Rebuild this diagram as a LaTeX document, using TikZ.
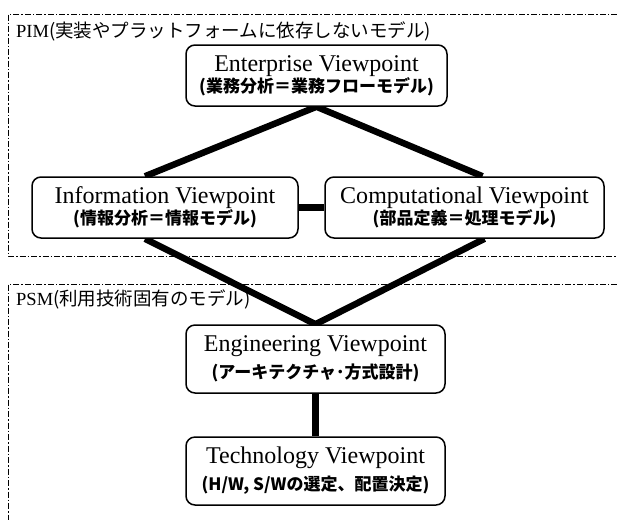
\documentclass[tikz,border=0pt]{standalone}
\usepackage{fontspec}
\setmainfont{Liberation Serif}
\newfontfamily\jpfont{Noto Sans CJK JP}
\usetikzlibrary{backgrounds}

\tikzset{
  viewbox/.style={draw, line width=1.5pt, rounded corners=9pt, fill=white,
    align=center, inner sep=0pt, font=\fontsize{24}{#1}\selectfont},
  viewbox/.default=21pt,
  link/.style={line width=6.5pt, miter limit=20},
  zone/.style={line width=0.8pt, dash pattern=on 6pt off 2pt on 1.5pt off 2pt},
  zonelabel/.style={anchor=base west, inner sep=0pt, font=\fontsize{18.5}{20}\selectfont}
}
\newcommand\subtxt[1]{{\jpfont\bfseries\fontsize{17}{20}\selectfont #1}}

\begin{document}
\begin{tikzpicture}[x=1pt,y=-1pt]
  \useasboundingbox (0,0) rectangle (617,520);

  \node[zonelabel] (pim) at (16,37) {PIM\jpfont(実装やプラットフォームに依存しないモデル)};
  \node[zonelabel] (psm) at (16,305) {PSM\jpfont(利用技術固有のモデル)};

  \node[viewbox, minimum width=261pt, minimum height=61pt] (ent) at (316.5,75.5)
    {Enterprise Viewpoint\\\subtxt{(業務分析＝業務フローモデル)}};
  \node[viewbox, minimum width=266pt, minimum height=61pt] (inf) at (165,207.5)
    {Information Viewpoint\\\subtxt{(情報分析＝情報モデル)}};
  \node[viewbox, minimum width=279pt, minimum height=61pt] (comp) at (464.5,207.5)
    {Computational Viewpoint\\\subtxt{(部品定義＝処理モデル)}};
  \node[viewbox=27pt, minimum width=259pt, minimum height=68pt] (eng) at (315.5,359)
    {Engineering Viewpoint\\\subtxt{(アーキテクチャ･方式設計)}};
  \node[viewbox=27pt, minimum width=259pt, minimum height=68pt] (tech) at (315.5,471)
    {Technology Viewpoint\\\subtxt{(H/W, S/Wの選定、配置決定)}};

  \begin{scope}[on background layer]
    % PIM / PSM areas, open to the right
    \draw[zone] (617,14) -| (8,256) -- (617,256);
    \draw[zone] (617,284) -| (8,520);

    \draw[link] ([xshift=-20pt]inf.north) -- (ent.south) -- ([xshift=18pt]comp.north);
    \draw[link] ([xshift=-20pt]inf.south) -- (eng.north) -- ([xshift=20pt]comp.south);
    \draw[link] (inf.east) -- (comp.west);
    \draw[link] (eng.south) -- (tech.north);
  \end{scope}
\end{tikzpicture}
\end{document}
